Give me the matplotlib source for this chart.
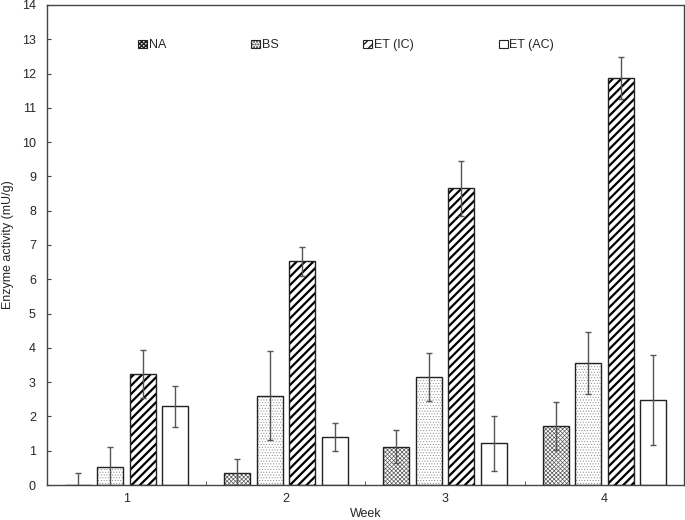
import matplotlib
matplotlib.use("Agg")
import matplotlib.pyplot as plt
import numpy as np

weeks = ["1", "2", "3", "4"]
series = ["NA", "BS", "ET (IC)", "ET (AC)"]
values = {
    "NA":      [0.0, 0.35, 1.12, 1.72],
    "BS":      [0.52, 2.60, 3.15, 3.55],
    "ET (IC)": [3.25, 6.52, 8.65, 11.87],
    "ET (AC)": [2.30, 1.40, 1.22, 2.48],
}
errors = {
    "NA":      [0.35, 0.40, 0.48, 0.70],
    "BS":      [0.60, 1.30, 0.70, 0.90],
    "ET (IC)": [0.70, 0.42, 0.80, 0.60],
    "ET (AC)": [0.60, 0.42, 0.80, 1.32],
}

styles = {
    "NA":      dict(face="white", hatch="xxxxxxxx", hcol="#5a5a5a", hlw=0.5),
    "BS":      dict(face="white", hatch="......", hcol="#8a8a8a", hlw=0.4),
    "ET (IC)": dict(face="white", hatch="////", hcol="black", hlw=1.6),
    "ET (AC)": dict(face="white", hatch=None, hcol="black", hlw=0.5),
}

plt.rcParams['font.family'] = ['Liberation Sans', 'DejaVu Sans']
plt.rcParams['font.size'] = 9
plt.rcParams['text.color'] = '#262626'
plt.rcParams['axes.labelcolor'] = '#262626'
plt.rcParams['xtick.labelcolor'] = '#262626'
plt.rcParams['ytick.labelcolor'] = '#262626'

fig = plt.figure(figsize=(6.85, 5.2), dpi=100)
ax = fig.add_axes([0.0686, 0.0673, 0.9299, 0.9231])

x = np.arange(1, len(weeks) + 1)
step = 0.204
width = 0.163
offsets = [-1.5 * step, -0.5 * step, 0.5 * step, 1.5 * step]

handles = []
for s, off in zip(series, offsets):
    st = styles[s]
    with plt.rc_context({'hatch.linewidth': st['hlw'], 'hatch.color': st['hcol']}):
        ax.bar(x + off, values[s], width, color=st['face'], hatch=st['hatch'],
               edgecolor=st['hcol'], linewidth=0, zorder=2)
    ax.bar(x + off, values[s], width, fill=False, edgecolor="#222222",
           linewidth=1.0, zorder=3)
    ax.errorbar(x + off, values[s], yerr=errors[s], fmt='none', ecolor="#555555",
                elinewidth=1.0, capsize=2.5, capthick=1.0, zorder=4)
    with plt.rc_context({'hatch.linewidth': st['hlw'], 'hatch.color': st['hcol']}):
        h = plt.Rectangle((0, 0), 1, 1, facecolor=st['face'], hatch=st['hatch'],
                          edgecolor="#222222", linewidth=0.8)
    handles.append(h)

ax.set_xlim(0.5, 4.5)
ax.set_ylim(0, 14)
ax.set_yticks(np.arange(0, 15, 1))
ax.set_xticks(x)
ax.set_xticklabels(weeks)
ax.set_xticks([1.5, 2.5, 3.5], minor=True)
ax.tick_params(axis='x', which='major', length=0, pad=6)
ax.tick_params(axis='x', which='minor', direction='in', length=3, color="#444444")
ax.tick_params(axis='y', direction='in', length=3, color="#444444", pad=8)
for sp in ax.spines.values():
    sp.set_color("#444444")
    sp.set_linewidth(1.0)

ax.set_xlabel("Week")
ax.set_ylabel("Enzyme activity (mU/g)")
ax.yaxis.set_label_coords(-0.052, 0.5)
ax.xaxis.set_label_coords(0.5, -0.048)
ax.xaxis.label.set_va('top')

ax.legend(handles, series, ncol=4, frameon=False, loc='center left',
          bbox_to_anchor=(0.143, 0.916), handlelength=0.7, handleheight=0.7,
          handletextpad=0.15, columnspacing=6.8, borderaxespad=0, borderpad=0)

fig.savefig("out.png", dpi=100)
